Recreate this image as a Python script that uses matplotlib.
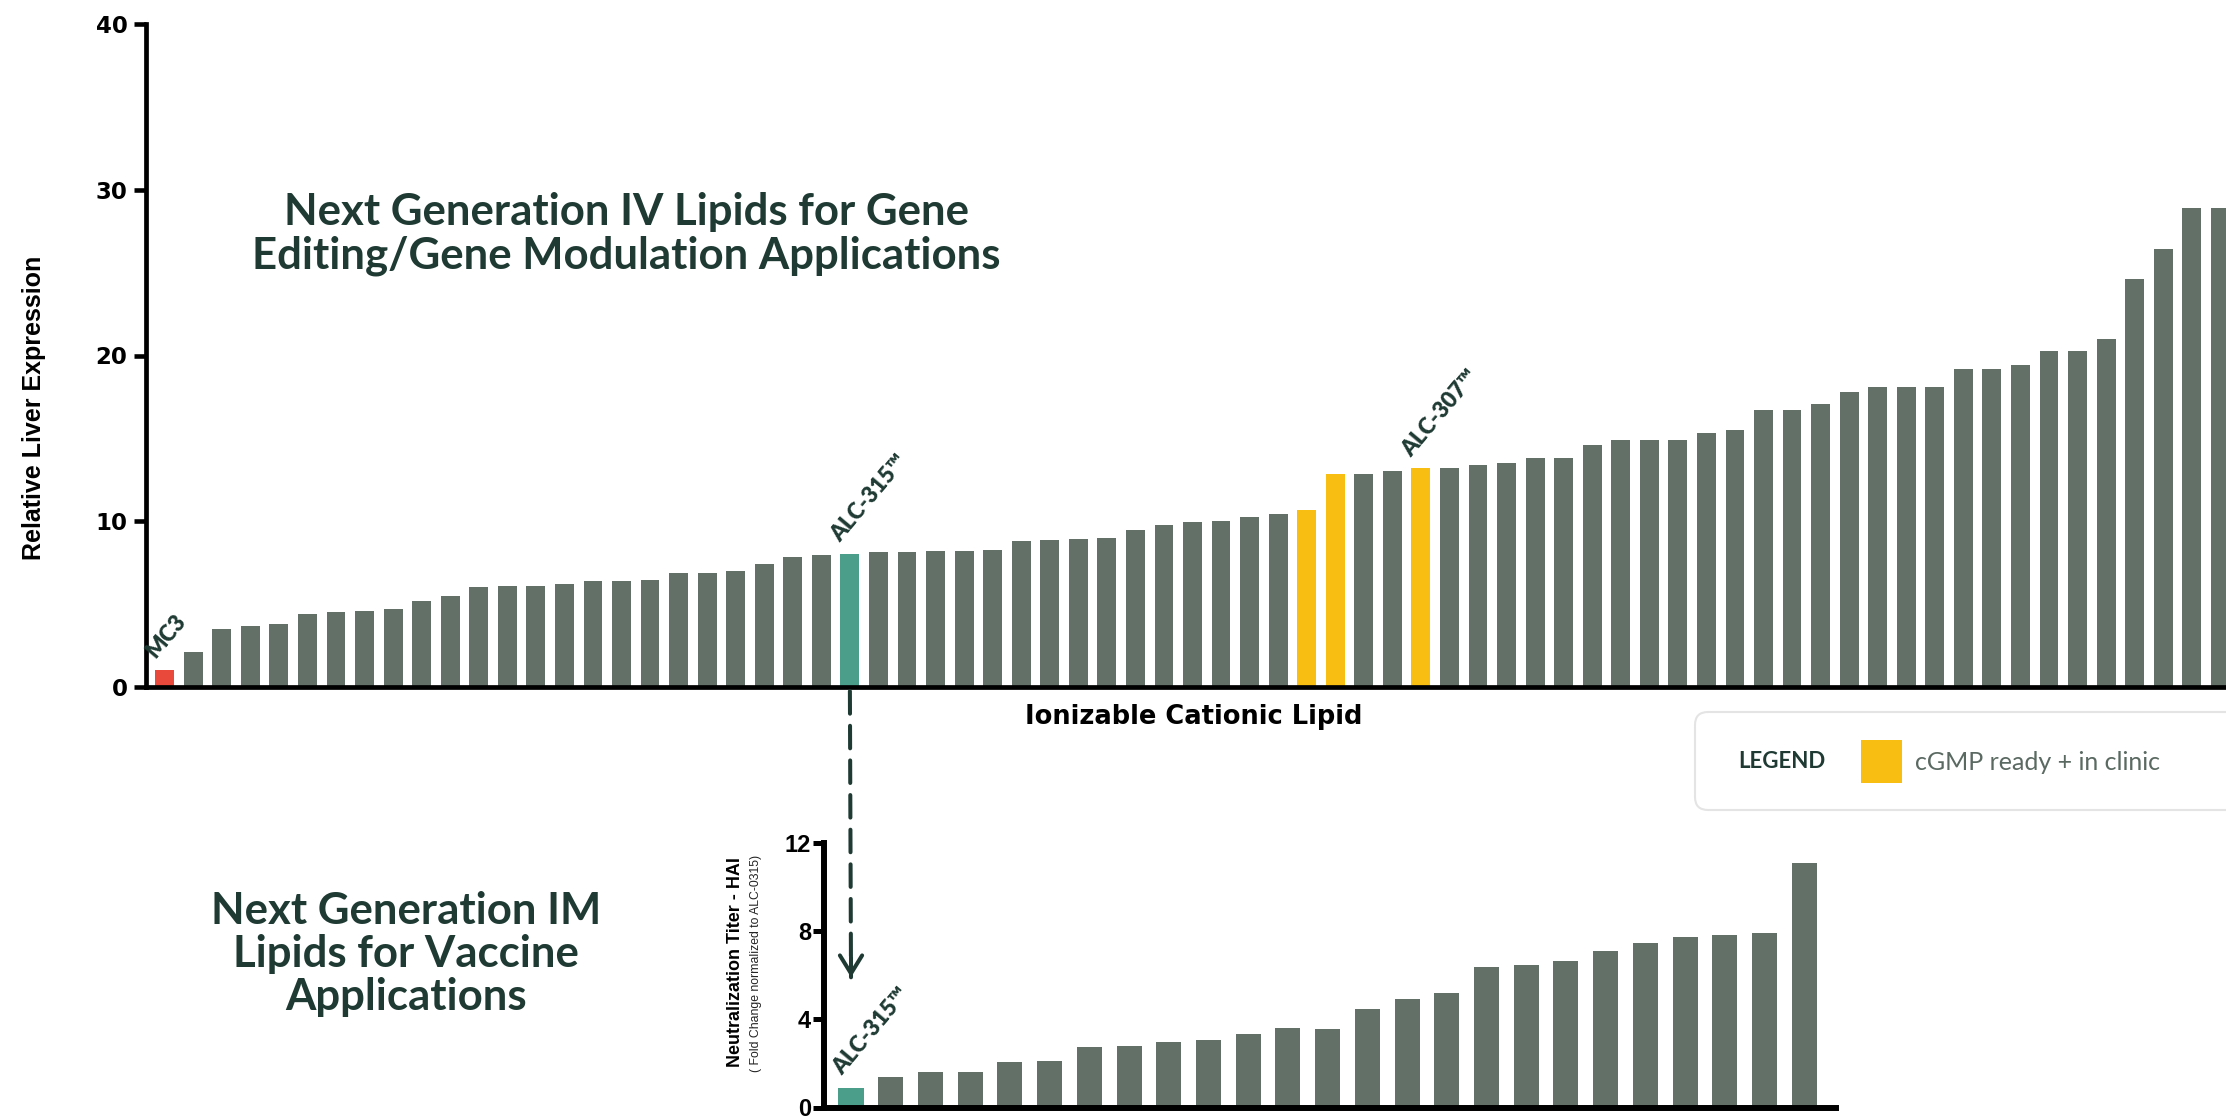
import numpy as np
import matplotlib
matplotlib.use('Agg')
import matplotlib.pyplot as plt
from matplotlib.patches import FancyBboxPatch, Rectangle, ConnectionPatch

plt.rcParams['font.family'] = ['Liberation Sans', 'DejaVu Sans']

# IV lipids - relative liver expression (sorted), one bar per ionizable cationic lipid
iv_values = [1.0, 2.1, 3.5, 3.7, 3.8, 4.4, 4.5, 4.6, 4.7, 5.2,
             5.5, 6.05, 6.1, 6.1, 6.2, 6.4, 6.4, 6.45, 6.85, 6.85,
             7.0, 7.45, 7.85, 7.95, 8.0, 8.15, 8.15, 8.18, 8.2, 8.25,
             8.8, 8.85, 8.9, 9.0, 9.5, 9.75, 9.95, 10.0, 10.25, 10.45,
             10.7, 12.85, 12.85, 13.05, 13.2, 13.2, 13.4, 13.5, 13.8, 13.8,
             14.6, 14.9, 14.9, 14.9, 15.3, 15.5, 16.7, 16.7, 17.1, 17.8,
             18.1, 18.1, 18.1, 19.2, 19.2, 19.4, 20.3, 20.3, 21.0, 24.6,
             26.4, 28.9, 28.9]
iv_mc3 = 0
iv_alc315 = 24
iv_alc307 = 44
iv_cgmp = [40, 41, 44]

# IM lipids - neutralization titer (fold change vs ALC-0315)
im_values = [0.9, 1.4, 1.6, 1.6, 2.05, 2.1, 2.75, 2.8, 2.95, 3.07,
             3.35, 3.6, 3.57, 4.46, 4.9, 5.2, 6.36, 6.46, 6.65, 7.09,
             7.46, 7.72, 7.83, 7.9, 11.1]
im_alc315 = 0

GREY = '#627067'
RED = '#E8493B'
TEAL = '#4A9E8A'
GOLD = '#F8BF12'
DARK = '#1E3A33'
TITLE_FONT = ['Lato', 'DejaVu Sans']
NARROW = ['Liberation Sans Narrow', 'Liberation Sans', 'DejaVu Sans']
WIDE = ['DejaVu Sans']

W, H = 2226, 1117
fig = plt.figure(figsize=(W / 100, H / 100), dpi=100)

# ---- top chart
ax1 = fig.add_axes([146 / W, 1 - 687 / H, 1 - 146 / W, (687 - 24) / H])
cols = [GREY] * len(iv_values)
cols[iv_mc3] = RED
cols[iv_alc315] = TEAL
for i in iv_cgmp:
    cols[i] = GOLD
ax1.bar(np.arange(len(iv_values)), iv_values, width=0.66, color=cols)
ax1.set_xlim(-0.655, 72.2)
ax1.set_ylim(0, 40)
ax1.set_yticks([0, 10, 20, 30, 40])
ax1.set_xticks([])
for s in ['top', 'right']:
    ax1.spines[s].set_visible(False)
for s in ['left', 'bottom']:
    ax1.spines[s].set_linewidth(3.4)
    ax1.spines[s].set_capstyle('projecting')
ax1.tick_params(axis='y', length=8.6, width=3.3, pad=4.8)
for t in ax1.get_yticklabels():
    t.set_fontweight('bold')
    t.set_family(WIDE)
    t.set_fontsize(16.5)

lab = dict(rotation=50, rotation_mode='anchor', ha='left', va='baseline',
           fontsize=16, color=DARK, family=TITLE_FONT, fontweight='heavy')
ax1.text(iv_mc3 - 0.33, iv_values[iv_mc3] + 0.7, 'MC3', **lab)
ax1.text(iv_alc315 - 0.33, iv_values[iv_alc315] + 0.7, 'ALC-315™', **lab)
ax1.text(iv_alc307 - 0.33, iv_values[iv_alc307] + 0.6, 'ALC-307™', **lab)

fig.text(34 / W, 1 - 408 / H, 'Relative Liver Expression', rotation=90,
         ha='center', va='center', fontsize=18, fontweight='bold', family=NARROW)
fig.text(1194 / W, 1 - 717 / H, 'Ionizable Cationic Lipid', ha='center',
         va='center', fontsize=18.5, fontweight='bold', family=WIDE)

fig.text(626 / W, 1 - 234 / H,
         'Next Generation IV Lipids for Gene\nEditing/Gene Modulation Applications',
         ha='center', va='center', fontsize=31.5, fontweight='bold', color=DARK,
         family=TITLE_FONT, linespacing=1.1)

# ---- bottom chart
ax2 = fig.add_axes([824 / W, 1 - 1107.5 / H, (1836 - 824) / W, (1107.5 - 842.7) / H])
cols2 = [GREY] * len(im_values)
cols2[im_alc315] = TEAL
ax2.bar(np.arange(len(im_values)), im_values, width=0.63, color=cols2)
ax2.set_xlim(-0.68, 24.8)
ax2.set_ylim(0, 12)
ax2.set_yticks([0, 4, 8, 12])
ax2.set_xticks([])
for s in ['top', 'right']:
    ax2.spines[s].set_visible(False)
for s in ['left', 'bottom']:
    ax2.spines[s].set_linewidth(4.3)
    ax2.spines[s].set_capstyle('projecting')
ax2.tick_params(axis='y', length=7.7, width=3.6, pad=1.5)
for t in ax2.get_yticklabels():
    t.set_fontweight('bold')
    t.set_fontsize(17)

ax2.text(im_alc315 - 0.22, im_values[im_alc315] + 0.55, 'ALC-315™', **lab)

fig.text(735 / W, 1 - 962 / H, 'Neutralization Titer - HAI', rotation=90,
         ha='center', va='center', fontsize=13, fontweight='bold')
fig.text(756 / W, 1 - 963 / H, '( Fold Change normalized to ALC-0315)', rotation=90,
         ha='center', va='center', fontsize=8.8, color='#222222')

fig.text(406 / W, 1 - 954 / H, 'Next Generation IM\nLipids for Vaccine\nApplications',
         ha='center', va='center', fontsize=31.5, fontweight='bold', color=DARK,
         family=TITLE_FONT, linespacing=1.1)

# dashed arrow linking ALC-315 in both charts
con = ConnectionPatch(xyA=(iv_alc315, -0.25), coordsA=ax1.transData,
                      xyB=(im_alc315, 5.9), coordsB=ax2.transData,
                      color=DARK, lw=2.9, linestyle=(0, (5.6, 3.0)))
fig.add_artist(con)
ax2.annotate('', xy=(im_alc315, 5.9), xytext=(im_alc315, 6.8),
             arrowprops=dict(arrowstyle='->,head_length=1.3,head_width=0.8',
                             lw=2.9, color=DARK, shrinkA=0, shrinkB=0))

# legend box
box = FancyBboxPatch((16.95, 3.07), 5.6, 0.98,
                     boxstyle='round,pad=0,rounding_size=0.13',
                     transform=fig.dpi_scale_trans, facecolor='white',
                     edgecolor='#E4E4E4', lw=1.5)
fig.add_artist(box)
fig.text(1782 / W, 1 - 762 / H, 'LEGEND', ha='center', va='center', fontsize=16,
         fontweight='bold', color=DARK, family=TITLE_FONT)
fig.add_artist(Rectangle((18.61, 3.34), 0.41, 0.43, transform=fig.dpi_scale_trans,
                         facecolor=GOLD, edgecolor='none'))
fig.text(1915 / W, 1 - 762 / H, 'cGMP ready + in clinic', ha='left', va='center',
         fontsize=18, color='#5A6962', family=TITLE_FONT)

fig.savefig('out.png', dpi=100)
